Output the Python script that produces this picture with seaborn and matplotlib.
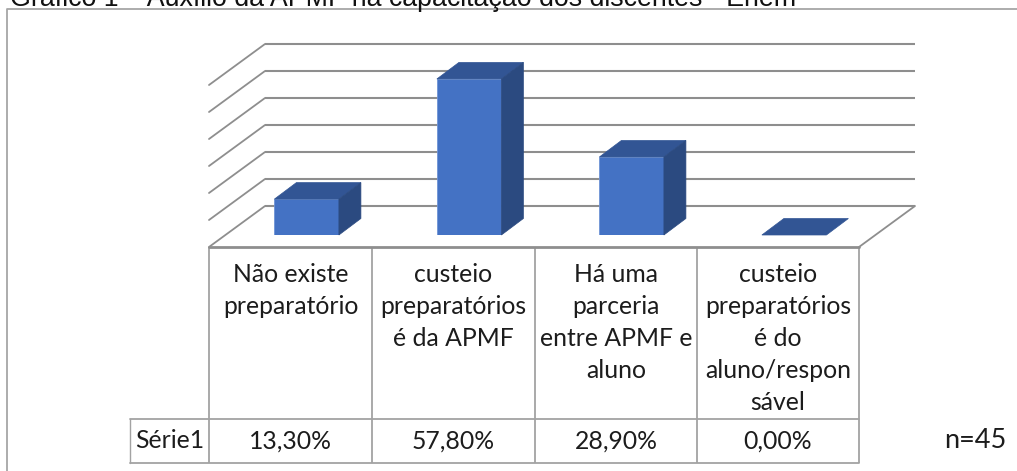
import pandas as pd
import matplotlib.pyplot as plt
from matplotlib.patches import Polygon
import seaborn as sns

sns.set_theme(style='white')
plt.rcParams['font.family'] = ['Lato', 'DejaVu Sans']

# dados do grafico
categorias = ['Não existe\npreparatório',
              'custeio\npreparatórios\né da APMF',
              'Há uma\nparceria\nentre APMF e\naluno',
              'custeio\npreparatórios\né do\naluno/respon\nsável']
valores = [13.3, 57.8, 28.9, 0.0]
grade = [0, 10, 20, 30, 40, 50, 60]
serie = 'Série1'
titulo = 'Gráfico 1 – Auxílio da APMF na capacitação dos discentes - Enem'
nota = 'n=45'

W, H = 1017, 471
df = pd.DataFrame({'cat': categorias, 'val': valores})

fig = plt.figure(figsize=(W / 100, H / 100), dpi=100, facecolor='white')

# eixo em pixels para moldura, tabela e textos soltos
bg = fig.add_axes([0, 0, 1, 1], zorder=0)
bg.set_xlim(0, W)
bg.set_ylim(H, 0)
bg.axis('off')

# eixo das barras: plano frontal das barras
px_cat = 162.5   # pixels por categoria
px_val = 2.7     # pixels por ponto percentual
x0_ax = 225.4
y0_ax = 235
ax = fig.add_axes([x0_ax / W, (H - y0_ax) / H, 4 * px_cat / W, 60 * px_val / H], zorder=1)
ax.patch.set_alpha(0)

sns.barplot(data=df, x='cat', y='val', color='#4472C4', width=0.397, saturation=1,
            edgecolor='#6E93D6', linewidth=0.6, ax=ax, zorder=3)
ax.set_xlim(-0.5, 3.5)
ax.set_ylim(0, 60)
ax.set_xlabel('')
ax.set_ylabel('')
ax.set_xticks([])
ax.set_yticks([])
sns.despine(ax=ax, left=True, bottom=True)


def dx(px):
    return px / px_cat


def dy(px):
    return px / px_val


# profundidade em pixels
prof_x, prof_y = 22, 16.5
# parede do fundo e frente do piso, relativas ao plano das barras
frente_x, frente_y = -16.4, -12
fundo_x, fundo_y = 39.6, 29
cor_grade = '#8E8E8E'

x_esq = -0.5 + dx(frente_x)
x_dir = 3.5 + dx(frente_x)
for g in grade:
    yb = g + dy(fundo_y)
    xs = [x_esq + dx(fundo_x - frente_x), x_dir + dx(fundo_x - frente_x)]
    ax.plot(xs, [yb, yb], color=cor_grade, lw=1.5, clip_on=False, zorder=1, solid_capstyle='butt')
    ax.plot([x_esq, xs[0]], [g + dy(frente_y), yb], color=cor_grade, lw=1.3, clip_on=False, zorder=1)

# lateral direita e frente do piso
ax.plot([x_dir, x_dir + dx(fundo_x - frente_x)], [dy(frente_y), dy(fundo_y)],
        color=cor_grade, lw=1.3, clip_on=False, zorder=1)
ax.plot([x_esq, x_dir], [dy(frente_y)] * 2, color=cor_grade, lw=2, clip_on=False, zorder=1)

# faces de topo e lateral de cada barra
for bar in ax.patches[:len(valores)]:
    x1 = bar.get_x()
    x2 = x1 + bar.get_width()
    h = bar.get_height()
    topo = [(x1, h), (x2, h), (x2 + dx(prof_x), h + dy(prof_y)), (x1 + dx(prof_x), h + dy(prof_y))]
    ax.add_patch(Polygon(topo, closed=True, facecolor='#325594', edgecolor='#325594',
                         lw=0.5, clip_on=False, zorder=3))
    if h > 0:
        lado = [(x2, 0), (x2 + dx(prof_x), dy(prof_y)), (x2 + dx(prof_x), h + dy(prof_y)), (x2, h)]
        ax.add_patch(Polygon(lado, closed=True, facecolor='#2B4A80', edgecolor='#2B4A80',
                             lw=0.5, clip_on=False, zorder=3))

# moldura
cor_moldura = '#A6A6A6'
bg.plot([1017, 7, 7], [8.5, 8.5, 471], color=cor_moldura, lw=1.3, solid_capstyle='butt')

# tabela de dados
cor_tab = '#A3A3A3'
lim_x = [209, 372, 535, 697, 859]
y_tab0, y_tab1, y_tab2 = 247, 419, 463
for xv in lim_x:
    bg.plot([xv, xv], [y_tab0, y_tab2], color=cor_tab, lw=1.3, solid_capstyle='butt')
bg.plot([130, 859], [y_tab1, y_tab1], color=cor_tab, lw=1.3)
bg.plot([130, 859], [y_tab2, y_tab2], color=cor_tab, lw=1.3)
bg.plot([130, 130], [y_tab1, y_tab2], color=cor_tab, lw=1.0)

cor_txt = '#1C1C1C'
fs = 17.8
for i, cat in enumerate(categorias):
    cx = (lim_x[i] + lim_x[i + 1]) / 2
    for j, linha in enumerate(cat.split('\n')):
        bg.text(cx, 275 + j * 32, linha, ha='center', va='center', fontsize=fs, color=cor_txt)
    rot = f'{valores[i]:.2f}%'.replace('.', ',')
    bg.text(cx, 441, rot, ha='center', va='center', fontsize=fs, color=cor_txt)
bg.text(169.5, 441, serie, ha='center', va='center', fontsize=fs, color=cor_txt)

bg.text(975, 441, nota, ha='center', va='center', fontsize=19.5, color=cor_txt, clip_on=False)
bg.text(10, 6, titulo, ha='left', va='baseline', fontsize=19.3, color='#111111',
        family='Liberation Sans', clip_on=False)

fig.savefig('out.png', dpi=100)
